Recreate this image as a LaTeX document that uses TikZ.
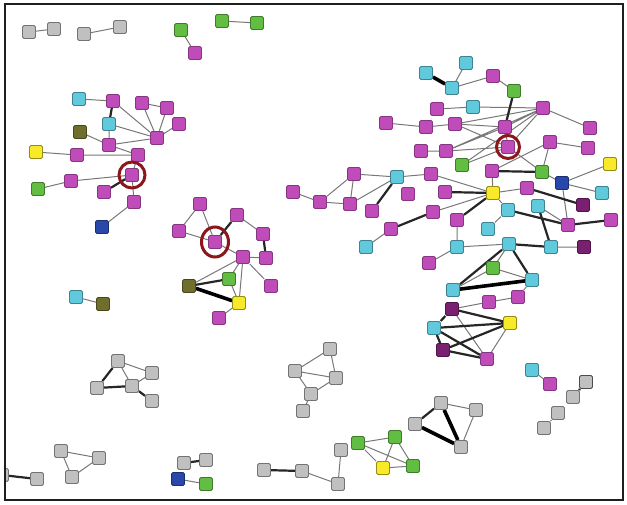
\documentclass[tikz,border=0pt]{standalone}
\usetikzlibrary{backgrounds,shapes.geometric}
\definecolor{cMag}{RGB}{192,76,186}
\definecolor{cCya}{RGB}{96,202,220}
\definecolor{cGrn}{RGB}{98,190,66}
\definecolor{cYel}{RGB}{248,234,40}
\definecolor{cOli}{RGB}{112,110,44}
\definecolor{cBlu}{RGB}{42,72,172}
\definecolor{cDpu}{RGB}{122,32,112}
\definecolor{cGry}{RGB}{192,192,192}
\definecolor{cEdge}{RGB}{120,120,120}
\definecolor{cRing}{RGB}{140,22,26}
\tikzset{
  nd/.style={draw, line width=0.9pt, rounded corners=1.5pt, minimum size=13pt, inner sep=0pt},
  mg/.style={nd, fill=cMag, draw=cMag!70!black},
  cy/.style={nd, fill=cCya, draw=cCya!65!black},
  gr/.style={nd, fill=cGrn, draw=cGrn!65!black},
  ye/.style={nd, fill=cYel, draw=cYel!60!black},
  ol/.style={nd, fill=cOli, draw=cOli!65!black},
  bl/.style={nd, fill=cBlu, draw=cBlu!65!black},
  dp/.style={nd, fill=cDpu, draw=cDpu!65!black},
  gy/.style={nd, fill=cGry, draw=black!55},
  e/.style={draw=cEdge, line width=1pt},
  ek/.style={draw=black!85, line width=2.2pt},
  ex/.style={draw=black, line width=3.6pt},
  ring/.style={draw=cRing, line width=3pt, circle, inner sep=0pt, minimum size=26pt}
}
\begin{document}
\begin{tikzpicture}[x=1pt,y=-1pt]
\useasboundingbox (0,0) rectangle (627,504);

% ---------- top-left pairs ----------
\node[gy] (t1) at (29,32) {};
\node[gy] (t2) at (54,29) {};
\node[gy] (t3) at (84,34) {};
\node[gy] (t4) at (120,27) {};
\node[gr] (t5) at (181,30) {};
\node[mg] (t6) at (195,53) {};
\node[gr] (t7) at (222,21) {};
\node[gr] (t8) at (257,23) {};

% ---------- left cluster ----------
\node[cy] (A) at (79,99) {};
\node[mg] (B) at (113,101) {};
\node[mg] (C) at (142,103) {};
\node[mg] (D) at (167,108) {};
\node[mg] (E) at (179,124) {};
\node[cy] (F) at (109,124) {};
\node[ol] (G) at (80,132) {};
\node[mg] (H) at (157,138) {};
\node[mg] (I) at (109,145) {};
\node[ye] (J) at (36,152) {};
\node[mg] (K) at (77,155) {};
\node[mg] (L) at (138,155) {};
\node[mg] (M) at (132,175) {};
\node[mg] (N) at (71,181) {};
\node[gr] (O) at (38,189) {};
\node[mg] (P) at (104,192) {};
\node[mg] (Q) at (134,202) {};
\node[bl] (R) at (102,227) {};

% ---------- middle cluster ----------
\node[mg] (ma) at (200,204) {};
\node[mg] (mb) at (237,215) {};
\node[mg] (mc) at (179,231) {};
\node[mg] (md) at (215,242) {};
\node[mg] (me) at (263,234) {};
\node[mg] (mf) at (243,257) {};
\node[mg] (mg) at (266,258) {};
\node[ol] (mh) at (189,286) {};
\node[gr] (mi) at (229,279) {};
\node[mg] (mj) at (271,286) {};
\node[ye] (mk) at (239,303) {};
\node[mg] (ml) at (219,318) {};

\node[cy] (s1) at (76,297) {};
\node[ol] (s2) at (103,304) {};

% ---------- grey groups ----------
\node[gy] (ga) at (118,361) {};
\node[gy] (gb) at (152,373) {};
\node[gy] (gc) at (97,388) {};
\node[gy] (gd) at (132,386) {};
\node[gy] (ge) at (152,401) {};

\node[gy] (ha) at (61,451) {};
\node[gy] (hb) at (99,458) {};
\node[gy] (hc) at (72,477) {};
\node[gy] (hd) at (37,479) {};
\node[gy] (he) at (2,475) {};

\node[gy] (ia) at (184,463) {};
\node[gy] (ib) at (206,460) {};
\node[bl] (ic) at (178,479) {};
\node[gr] (id) at (206,484) {};

\node[gy] (ja) at (264,470) {};
\node[gy] (jb) at (302,471) {};
\node[gy] (jc) at (338,484) {};
\node[gy] (jd) at (341,450) {};

\node[gy] (ka) at (330,349) {};
\node[gy] (kb) at (295,371) {};
\node[gy] (kc) at (336,378) {};
\node[gy] (kd) at (311,394) {};
\node[gy] (ke) at (303,411) {};

\node[gy] (la) at (441,403) {};
\node[gy] (lb) at (476,410) {};
\node[gy] (lc) at (415,424) {};
\node[gy] (ld) at (461,447) {};

\node[gr] (na) at (358,443) {};
\node[gr] (nb) at (395,437) {};
\node[ye] (nc) at (383,468) {};
\node[gr] (nd) at (413,466) {};

\node[cy] (oa) at (532,370) {};
\node[mg] (ob) at (550,384) {};
\node[gy, draw=black!70] (pa) at (586,382) {};
\node[gy] (pb) at (573,397) {};
\node[gy] (pc) at (558,413) {};
\node[gy] (pd) at (544,428) {};

% ---------- right cluster ----------
\node[cy] (r1) at (426,73) {};
\node[cy] (r2) at (466,63) {};
\node[cy] (r3) at (452,88) {};
\node[mg] (r4) at (493,76) {};
\node[gr] (r5) at (514,91) {};
\node[mg] (r6) at (437,109) {};
\node[cy] (r7) at (473,107) {};
\node[mg] (r8) at (543,108) {};
\node[mg] (r9) at (386,123) {};
\node[mg] (r10) at (426,127) {};
\node[mg] (r11) at (455,124) {};
\node[mg] (r12) at (505,127) {};
\node[mg] (r13) at (590,128) {};
\node[mg] (r14) at (421,151) {};
\node[mg] (r15) at (446,151) {};
\node[mg] (r16) at (508,147) {};
\node[mg] (r17) at (550,142) {};
\node[mg] (r18) at (588,148) {};
\node[gr] (r19) at (462,165) {};
\node[mg] (r20) at (492,171) {};
\node[gr] (r21) at (542,172) {};
\node[ye] (r22) at (610,164) {};
\node[mg] (r23) at (354,174) {};
\node[cy] (r24) at (397,177) {};
\node[mg] (r25) at (431,174) {};
\node[bl] (r26) at (562,183) {};
\node[mg] (r27) at (293,192) {};
\node[mg] (r28) at (408,194) {};
\node[mg] (r29) at (445,192) {};
\node[ye] (r30) at (493,193) {};
\node[mg] (r31) at (527,188) {};
\node[cy] (r32) at (602,193) {};
\node[mg] (r33) at (320,202) {};
\node[mg] (r34) at (350,204) {};
\node[mg] (r35) at (372,211) {};
\node[mg] (r36) at (433,212) {};
\node[cy] (r37) at (508,210) {};
\node[cy] (r38) at (538,206) {};
\node[dp] (r39) at (583,205) {};
\node[mg] (r40) at (391,229) {};
\node[mg] (r41) at (457,220) {};
\node[cy] (r42) at (488,229) {};
\node[mg] (r43) at (568,225) {};
\node[mg] (r44) at (611,220) {};
\node[cy] (r45) at (366,247) {};
\node[cy] (r46) at (457,247) {};
\node[cy] (r47) at (509,244) {};
\node[cy] (r48) at (551,247) {};
\node[dp] (r49) at (584,247) {};
\node[mg] (r50) at (429,263) {};
\node[gr] (r51) at (493,268) {};
\node[cy] (r52) at (532,280) {};
\node[cy] (r53) at (453,290) {};
\node[mg] (r54) at (518,297) {};
\node[mg] (r55) at (489,302) {};
\node[dp] (r56) at (452,309) {};
\node[ye] (r57) at (510,323) {};
\node[cy] (r58) at (434,328) {};
\node[dp] (r59) at (443,350) {};
\node[mg] (r60) at (487,359) {};

% ---------- links ----------
\begin{scope}[on background layer]
\draw[e] (t1)--(t2) (t3)--(t4) (t5)--(t6) (t7)--(t8);
% left cluster
\draw[e] (A)--(B) (B)--(H) (F)--(H) (C)--(H) (C)--(D) (D)--(H) (E)--(H)
  (F)--(I) (G)--(I) (I)--(H) (I)--(L) (J)--(K) (K)--(L) (L)--(M) (N)--(M)
  (O)--(N) (M)--(Q) (Q)--(R);
\draw[ek] (B)--(F) (M)--(P);
% middle cluster
\draw[e] (ma)--(mc) (ma)--(md) (mc)--(md) (mb)--(me) (md)--(mf) (mf)--(mg)
  (mf)--(mh) (mf)--(mi) (mf)--(mk) (mf)--(mj) (mi)--(mk) (mk)--(ml);
\draw[ek] (md)--(mb) (me)--(mg) (mh)--(mi);
\draw[ex] (mh)--(mk);
\draw[e] (s1)--(s2);
% grey groups
\draw[e] (ga)--(gb) (ga)--(gd) (gd)--(gb);
\draw[ek] (ga)--(gc) (gc)--(gd) (gd)--(ge);
\draw[e] (ha)--(hb) (ha)--(hc) (hc)--(hb);
\draw[ek] (he)--(hd);
\draw[ek] (ia)--(ib);
\draw[e] (ic)--(id);
\draw[ek] (ja)--(jb);
\draw[e] (jb)--(jc) (jc)--(jd);
\draw[e] (ka)--(kb) (ka)--(kc) (kb)--(kc) (kb)--(kd) (kd)--(kc) (kd)--(ke);
\draw[e] (la)--(lb) (lb)--(ld);
\draw[ek] (la)--(lc);
\draw[ex] (la)--(ld) (lc)--(ld);
\draw[e] (na)--(nb) (na)--(nc) (na)--(nd) (nb)--(nc) (nb)--(nd) (nc)--(nd);
\draw[e] (oa)--(ob) (pc)--(pd);
\draw[ek] (pa)--(pb);
% right cluster
\draw[ex] (r1)--(r3);
\draw[e] (r2)--(r3) (r3)--(r4) (r4)--(r5) (r6)--(r7) (r7)--(r8)
  (r9)--(r10) (r10)--(r11) (r11)--(r8) (r11)--(r12) (r11)--(r16)
  (r14)--(r15) (r15)--(r12) (r15)--(r16) (r15)--(r8)
  (r19)--(r16) (r19)--(r8) (r12)--(r8) (r16)--(r8) (r12)--(r16) (r8)--(r13)
  (r17)--(r18) (r17)--(r20) (r17)--(r21) (r16)--(r21) (r20)--(r30)
  (r21)--(r26) (r26)--(r22) (r26)--(r32) (r26)--(r43)
  (r23)--(r24) (r24)--(r25) (r25)--(r30)
  (r23)--(r33) (r23)--(r34) (r27)--(r33) (r33)--(r34) (r34)--(r24)
  (r40)--(r45) (r36)--(r30) (r37)--(r30) (r31)--(r30) (r42)--(r37)
  (r38)--(r43) (r41)--(r46) (r46)--(r50) (r46)--(r47) (r48)--(r49)
  (r47)--(r51) (r51)--(r53) (r51)--(r52) (r52)--(r54) (r54)--(r55) (r55)--(r56)
  (r56)--(r60) (r57)--(r60);
\draw[ek] (r5)--(r12) (r20)--(r21) (r35)--(r24) (r40)--(r36) (r29)--(r30)
  (r41)--(r30) (r31)--(r39) (r37)--(r43) (r38)--(r48) (r43)--(r44)
  (r47)--(r48) (r47)--(r53) (r47)--(r52)
  (r56)--(r57) (r56)--(r58) (r58)--(r57) (r58)--(r59) (r58)--(r60)
  (r59)--(r57) (r59)--(r60);
\draw[ex] (r53)--(r52);
\end{scope}

% ---------- highlight rings ----------
\node[ring] (ringM) at (M) {};
\node[ring, ellipse, minimum width=27pt, minimum height=30pt] (ringMd) at (md) {};
\node[ring, minimum size=23pt] (ringR) at (r16) {};

% ---------- frame ----------
\fill[white] (-10,0) rectangle (4,504);
\draw[black!88, line width=2pt] (5,4) rectangle (623,500);
\end{tikzpicture}
\end{document}
